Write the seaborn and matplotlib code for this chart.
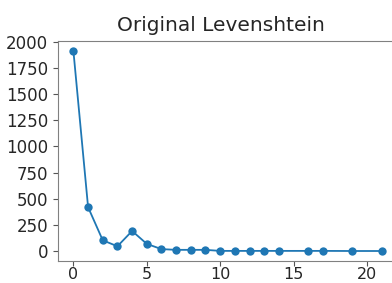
import matplotlib
matplotlib.use("Agg")
import matplotlib.pyplot as plt
from matplotlib.ticker import MultipleLocator
import pandas as pd
import seaborn as sns

distance = [0, 1, 2, 3, 4, 5, 6, 7, 8, 9, 10, 11, 12, 13, 14, 16, 17, 19, 21]
count = [1910, 420, 104, 47, 193, 70, 20, 13, 13, 13, 3, 3, 3, 3, 3, 3, 3, 2, 2]

df = pd.DataFrame({"distance": distance, "count": count})

fig = plt.figure(figsize=(3.92, 2.83), dpi=100)
ax = fig.add_axes([58 / 392, 1 - 261 / 283, (397 - 58) / 392, (261 - 41) / 283])
sns.lineplot(data=df, x="distance", y="count", marker="o", markersize=6,
             markeredgewidth=0, linewidth=1.3, color="#1f77b4", ax=ax)
ax.set_xlabel("")
ax.set_ylabel("")
ax.yaxis.set_major_locator(MultipleLocator(250))
ax.set_title("Original Levenshtein", fontsize=14.5, x=0.48, pad=7, color="#262626")
ax.tick_params(labelsize=12, colors="#555555", labelcolor="#262626")
ax.tick_params(axis="x", pad=1, labelsize=11.5)
for s in ax.spines.values():
    s.set_color("#808080")
fig.savefig("out.png", dpi=100)
